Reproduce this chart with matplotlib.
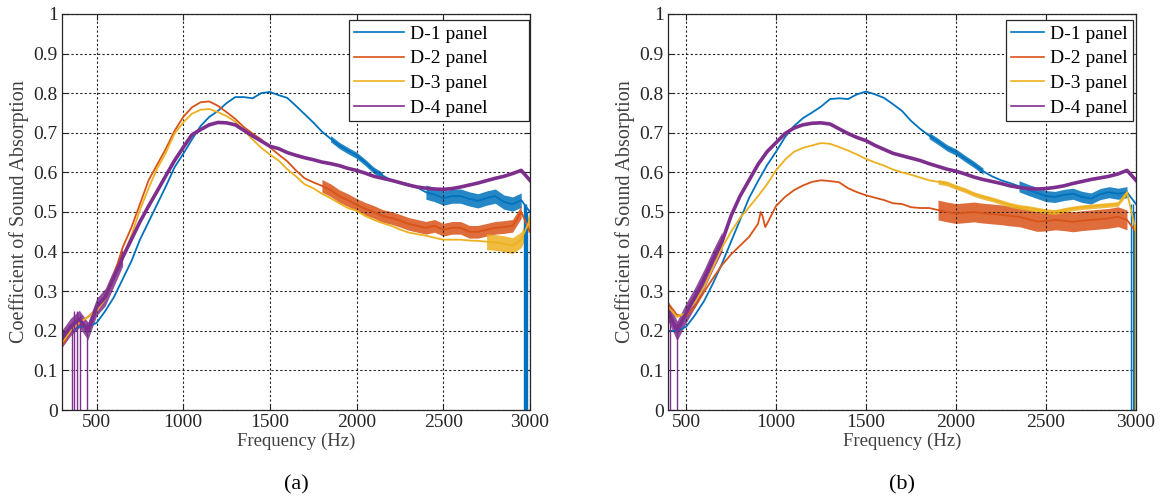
import numpy as np
import matplotlib
matplotlib.use("Agg")
import matplotlib.pyplot as plt

plt.rcParams["font.family"] = ["Liberation Serif", "DejaVu Serif"]

# Farben (MATLAB Standard)
colors = ["#0072BD", "#D95319", "#EDB120", "#7E2F8E"]
labels = ["D-1 panel", "D-2 panel", "D-3 panel", "D-4 panel"]

# Panel (a): 300..3000 Hz in 50-Hz-Schritten
freq_a = list(range(300, 3001, 50))
d1_a = [0.18, 0.20, 0.21, 0.21, 0.22, 0.25, 0.285, 0.33, 0.375, 0.43, 0.475, 0.52, 0.565, 0.613,
        0.647, 0.683, 0.717, 0.74, 0.755, 0.775, 0.79, 0.79, 0.787, 0.80, 0.803, 0.795, 0.788, 0.768,
        0.747, 0.726, 0.703, 0.685, 0.668, 0.655, 0.643, 0.625, 0.605, 0.592, 0.58, 0.575, 0.57, 0.562,
        0.55, 0.544, 0.535, 0.54, 0.54, 0.533, 0.528, 0.535, 0.54, 0.525, 0.52, 0.53, 0.50]
d2_a = [0.16, 0.20, 0.22, 0.235, 0.255, 0.29, 0.34, 0.41, 0.46, 0.52, 0.58, 0.62, 0.66, 0.705,
        0.74, 0.764, 0.777, 0.779, 0.768, 0.752, 0.735, 0.714, 0.698, 0.683, 0.663, 0.645, 0.628, 0.605,
        0.585, 0.575, 0.566, 0.555, 0.54, 0.53, 0.518, 0.508, 0.50, 0.49, 0.485, 0.478, 0.47, 0.465,
        0.46, 0.465, 0.455, 0.46, 0.46, 0.45, 0.45, 0.455, 0.46, 0.462, 0.465, 0.50, 0.45]
d3_a = [0.17, 0.20, 0.22, 0.235, 0.25, 0.28, 0.33, 0.385, 0.44, 0.505, 0.56, 0.61, 0.65, 0.698,
        0.726, 0.748, 0.758, 0.76, 0.752, 0.742, 0.728, 0.706, 0.683, 0.662, 0.645, 0.63, 0.608, 0.59,
        0.57, 0.56, 0.546, 0.535, 0.522, 0.51, 0.503, 0.49, 0.48, 0.472, 0.465, 0.456, 0.448, 0.444,
        0.44, 0.435, 0.43, 0.43, 0.43, 0.428, 0.427, 0.425, 0.423, 0.42, 0.415, 0.43, 0.48]
d4_a = [0.18, 0.21, 0.23, 0.20, 0.26, 0.285, 0.335, 0.385, 0.43, 0.475, 0.515, 0.553, 0.592, 0.63,
        0.663, 0.695, 0.708, 0.72, 0.726, 0.725, 0.72, 0.706, 0.692, 0.679, 0.666, 0.66, 0.65, 0.643,
        0.637, 0.632, 0.626, 0.622, 0.617, 0.61, 0.605, 0.598, 0.59, 0.585, 0.58, 0.574, 0.568, 0.563,
        0.56, 0.558, 0.557, 0.559, 0.563, 0.568, 0.573, 0.579, 0.585, 0.59, 0.597, 0.605, 0.58]

# Panel (b): 400..3000 Hz
freq_b = list(range(400, 3001, 50))
d1_b = [0.20, 0.20, 0.21, 0.24, 0.275, 0.32, 0.37, 0.425, 0.48, 0.535, 0.578, 0.618, 0.652, 0.689,
        0.717, 0.737, 0.751, 0.766, 0.785, 0.787, 0.785, 0.797, 0.804, 0.797, 0.788, 0.772, 0.755, 0.73,
        0.71, 0.693, 0.678, 0.662, 0.651, 0.635, 0.62, 0.603, 0.59, 0.58, 0.573, 0.565, 0.556, 0.548,
        0.54, 0.538, 0.543, 0.546, 0.538, 0.534, 0.545, 0.55, 0.546, 0.55, 0.52]
freq_b2 = [400, 450, 500, 550, 600, 650, 700, 750, 800, 850, 900, 915, 925, 940] + list(range(950, 3001, 50))
d2_b = [0.27, 0.24, 0.237, 0.26, 0.298, 0.333, 0.366, 0.393, 0.415, 0.437, 0.47, 0.50, 0.49, 0.462,
        0.47, 0.515, 0.538, 0.555, 0.567, 0.576, 0.58, 0.578, 0.575, 0.56, 0.55, 0.542, 0.536, 0.53,
        0.522, 0.52, 0.512, 0.51, 0.51, 0.505, 0.50, 0.496, 0.498, 0.50, 0.497, 0.495, 0.493, 0.49,
        0.488, 0.482, 0.476, 0.477, 0.48, 0.478, 0.475, 0.478, 0.48, 0.482, 0.484, 0.488, 0.48, 0.45]
d3_b = [0.26, 0.235, 0.245, 0.272, 0.31, 0.36, 0.41, 0.45, 0.485, 0.512, 0.54, 0.57, 0.605, 0.632,
        0.652, 0.662, 0.668, 0.674, 0.672, 0.664, 0.655, 0.645, 0.634, 0.625, 0.617, 0.607, 0.60, 0.594,
        0.587, 0.58, 0.576, 0.572, 0.563, 0.555, 0.545, 0.538, 0.532, 0.525, 0.518, 0.513, 0.51, 0.506,
        0.502, 0.50, 0.505, 0.509, 0.512, 0.514, 0.516, 0.518, 0.52, 0.55, 0.45]
d4_b = [0.25, 0.20, 0.245, 0.285, 0.33, 0.38, 0.425, 0.49, 0.54, 0.58, 0.62, 0.652, 0.675, 0.698,
        0.712, 0.72, 0.724, 0.725, 0.722, 0.71, 0.698, 0.688, 0.68, 0.668, 0.658, 0.648, 0.642, 0.636,
        0.63, 0.622, 0.615, 0.608, 0.603, 0.596, 0.588, 0.582, 0.577, 0.572, 0.566, 0.562, 0.559, 0.558,
        0.559, 0.562, 0.566, 0.572, 0.577, 0.582, 0.586, 0.59, 0.596, 0.605, 0.58]

# Rauschbänder (Start Hz, Ende Hz, halbe Breite) je Kurve
noise_a = [[(1850, 2150, 0.008), (2400, 2950, 0.018)],
           [(1800, 2950, 0.016)],
           [(2750, 3000, 0.02)],
           [(300, 650, 0.022)]]
noise_b = [[(1850, 2150, 0.008), (2350, 2950, 0.014)],
           [(1900, 2950, 0.025)],
           [(1900, 2950, 0.006)],
           [(400, 700, 0.025)]]

# Ausreißer auf 0 (Frequenz, Höhe) je Kurve
drops_a = [[(2968, 0.52), (2974, 0.52), (2980, 0.52), (2986, 0.50)], [], [],
           [(358, 0.22), (371, 0.25), (387, 0.25), (402, 0.24), (444, 0.22)]]
drops_b = [[(2975, 0.52), (2982, 0.52), (2988, 0.50)], [], [(2997, 0.47)],
           [(412, 0.25), (448, 0.22)]]
line_widths = [1.3, 1.3, 1.3, 2.6]


def draw_panel(ax, series, noises, drops, xmin, caption, leg_box, handle_len):
    for (f, y), c, lab, nz, dr, lw in zip(series, colors, labels, noises, drops, line_widths):
        f = np.array(f)
        y = np.array(y)
        for f0, f1, w in nz:
            m = (f >= f0) & (f <= f1)
            ax.fill_between(f[m], y[m] - w, y[m] + w, color=c, lw=0, alpha=0.85)
        ax.plot(f, y, color=c, lw=lw)
        ax.plot([], [], color=c, lw=1.2, label=lab)
        for fx, top in dr:
            ax.vlines(fx, 0, top, color=c, lw=1.0)

    ax.set_xlim(xmin, 3000)
    ax.set_ylim(0, 1)
    ax.set_xticks([500, 1000, 1500, 2000, 2500, 3000])
    ax.set_yticks(np.arange(0, 1.01, 0.1))
    ax.set_yticklabels(["0", "0.1", "0.2", "0.3", "0.4", "0.5", "0.6", "0.7", "0.8", "0.9", "1"])
    ax.tick_params(direction="in", top=True, right=True, labelsize=14, length=4, colors="#262626",
                   pad=3)
    ax.grid(True, linestyle=(0, (2, 2)), color="#222222", linewidth=0.8)
    for sp in ax.spines.values():
        sp.set_linewidth(0.9)
        sp.set_color("#262626")
    ax.set_xlabel("Frequency (Hz)", fontsize=13.5, color="#404040", labelpad=1)
    ax.set_ylabel("Coefficient of Sound Absorption", fontsize=14.5, color="#404040", labelpad=3)
    leg = ax.legend(loc="upper left", bbox_to_anchor=leg_box, mode="expand", fontsize=14,
                    handlelength=handle_len, frameon=True, fancybox=False,
                    edgecolor="#262626", framealpha=1, borderaxespad=0, borderpad=0.25,
                    labelspacing=0.36, handletextpad=0.3)
    leg.get_frame().set_linewidth(0.9)
    ax.text(0.5, -0.19, caption, transform=ax.transAxes, ha="center", va="center", fontsize=16)


fig = plt.figure(figsize=(11.6, 4.97), dpi=100)
ax_a = fig.add_axes([0.0534, 0.175, 0.4034, 0.797])
ax_b = fig.add_axes([0.5759, 0.175, 0.4034, 0.797])

draw_panel(ax_a, [(freq_a, d1_a), (freq_a, d2_a), (freq_a, d3_a), (freq_a, d4_a)],
           noise_a, drops_a, 300, "(a)", (0.613, 0, 0.385, 0.984), 2.6)
draw_panel(ax_b, [(freq_b, d1_b), (freq_b2, d2_b), (freq_b, d3_b), (freq_b, d4_b)],
           noise_b, drops_b, 400, "(b)", (0.723, 0, 0.27, 0.984), 1.7)

fig.savefig("out.png", dpi=100)
